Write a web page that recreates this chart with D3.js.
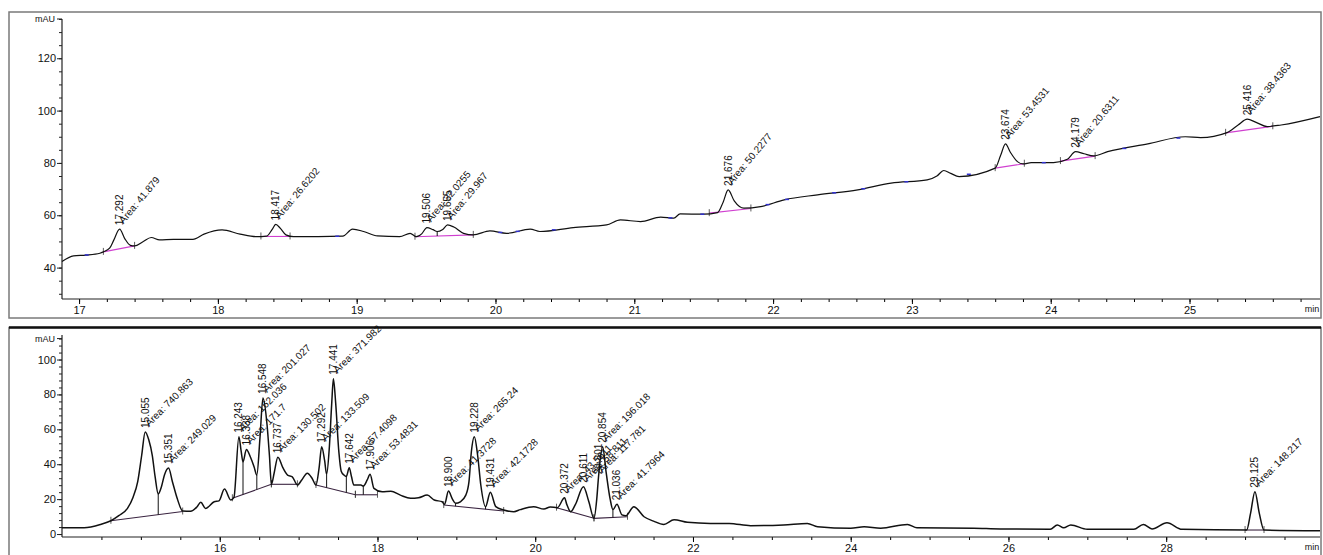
<!DOCTYPE html>
<html>
<head>
<meta charset="utf-8">
<script src="https://cdn.jsdelivr.net/npm/d3@7"></script>
<style>
  body { margin: 0; background: #fff; }
  svg text { font-family: Arial, "Liberation Sans", sans-serif; fill: #111; }
</style>
</head>
<body>
<div id="chart"></div>
<script>
// ---- top chromatogram (min, mAU) ----
const topTrace = [
  [16.877,42.3],[16.96,44.5],[17.05,44.8],[17.15,45.5],[17.175,46.0],[17.22,47.4],[17.25,50.5],[17.292,54.7],
  [17.33,51.0],[17.37,48.5],[17.40,48.3],[17.46,49.9],[17.52,51.5],[17.58,50.6],[17.68,50.8],[17.82,50.8],
  [17.90,52.8],[18.03,54.4],[18.16,52.8],[18.28,51.8],[18.35,52.0],[18.39,54.5],[18.417,56.5],[18.45,55.0],
  [18.49,52.5],[18.545,51.8],[18.90,52.0],[18.97,54.7],[19.05,53.8],[19.15,52.1],[19.31,51.8],[19.385,53.1],
  [19.43,51.8],[19.47,53.0],[19.506,55.3],[19.55,54.5],[19.58,53.8],[19.62,54.6],[19.655,56.3],[19.70,55.5],
  [19.77,53.1],[19.84,52.5],[19.96,54.0],[20.08,53.1],[20.25,54.7],[20.32,53.8],[20.56,55.3],[20.80,56.3],
  [20.90,58.2],[21.045,57.6],[21.19,59.3],[21.285,58.9],[21.33,60.5],[21.50,60.4],[21.60,61.0],[21.64,65.0],
  [21.676,69.7],[21.72,65.5],[21.79,62.7],[21.91,63.3],[22.08,65.9],[22.32,67.8],[22.61,69.7],[22.85,72.3],
  [23.11,73.5],[23.18,75.0],[23.23,77.1],[23.28,76.0],[23.34,74.8],[23.60,78.0],[23.64,83.0],[23.674,87.3],
  [23.71,84.0],[23.76,80.5],[23.80,79.6],[23.86,80.1],[24.02,80.1],[24.12,81.4],[24.179,84.3],[24.24,83.5],
  [24.31,82.7],[24.41,84.3],[24.70,87.3],[24.97,90.0],[25.08,89.7],[25.27,91.6],[25.35,94.5],[25.416,96.7],
  [25.48,95.5],[25.56,93.9],[25.66,94.5],[25.94,97.7]
];
const topPeakRT   = ["17.292", "18.417", "19.506", "19.655", "21.676", "23.674", "24.179", "25.416"];
const topPeakArea = ["Area: 41.879", "Area: 26.6202", "Area: 22.0255", "Area: 29.967", "Area: 50.2277",
                     "Area: 53.4531", "Area: 20.6311", "Area: 38.4363"];
const topBaselines = [
  [[17.175,46.0],[17.40,48.3]], [[18.31,51.9],[18.52,51.9]], [[19.42,51.8],[19.84,52.5]],
  [[21.54,60.8],[21.84,62.6]], [[23.60,78.0],[23.81,79.7]], [[24.07,80.7],[24.32,82.6]],
  [[25.26,91.5],[25.60,94.0]]
];
const topDrops = [19.58];
const topBlueMarks = [17.055, 18.86, 20.035, 20.16, 20.42, 21.26, 21.49, 21.96, 22.10, 22.44, 22.65,
                      22.96, 23.41, 23.95, 24.53, 24.92];
const topXTicks = [17, 18, 19, 20, 21, 22, 23, 24, 25];
const topYTicks = [40, 60, 80, 100, 120];

// ---- bottom chromatogram ----
const bottomTrace = [
  [14.0,3.6],[14.28,3.6],[14.49,5.5],[14.62,7.6],[14.72,10.5],[14.83,14.7],[14.90,21],[14.96,30],[15.01,45],
  [15.055,58.5],[15.10,54],[15.145,45],[15.18,33],[15.22,23],[15.26,27],[15.30,34],[15.351,37.8],[15.40,30],
  [15.46,20.5],[15.53,13.2],[15.63,13.0],[15.71,15.5],[15.76,18.2],[15.82,14.7],[15.93,18.5],[15.99,19],
  [16.06,25.8],[16.14,19.5],[16.18,21],[16.243,55.8],[16.27,48],[16.295,41.4],[16.338,48.5],[16.39,44],
  [16.435,38.6],[16.47,33.8],[16.51,55],[16.548,78],[16.60,62.5],[16.63,45],[16.655,28.5],[16.69,35],
  [16.737,44],[16.80,38],[16.86,33.8],[16.92,32.8],[16.985,28.1],[17.04,31],[17.11,34.8],[17.17,32],
  [17.22,28.1],[17.26,38],[17.292,50],[17.33,42],[17.355,34.2],[17.39,50],[17.42,75],[17.441,89],[17.47,75],
  [17.51,47.2],[17.54,36],[17.575,33.8],[17.605,33],[17.642,38],[17.67,33],[17.70,28.1],[17.79,28.1],
  [17.82,27.5],[17.87,31],[17.906,34.2],[17.955,26.2],[18.06,24.2],[18.17,24.5],[18.29,22.3],[18.42,20.5],
  [18.52,20.8],[18.63,22.3],[18.72,19.5],[18.82,18.5],[18.85,17],[18.900,24.6],[18.95,20],[18.99,17.6],
  [19.05,18.5],[19.12,22.3],[19.16,30],[19.19,47],[19.228,55.8],[19.27,45],[19.31,28.1],[19.37,15.7],
  [19.431,23.9],[19.50,15.7],[19.60,13.8],[19.73,12.8],[19.81,14],[19.98,15.7],[20.11,14.3],[20.19,15.5],
  [20.28,15.1],[20.372,20.8],[20.40,17],[20.45,12.8],[20.51,17],[20.611,27.1],[20.68,18.5],[20.745,9.0],
  [20.78,20],[20.801,32],[20.854,50],[20.90,35],[20.95,20],[20.985,14],[21.036,17],[21.10,11],[21.15,10.5],
  [21.25,15.7],[21.38,9.9],[21.50,7.4],[21.63,5.5],[21.76,8.2],[21.93,6.7],[22.22,6.1],[22.46,6.1],
  [22.73,4.8],[23.15,5.2],[23.45,6.1],[23.58,4.2],[24.00,3.3],[24.17,4.2],[24.38,3.3],[24.72,5.5],
  [24.84,3.6],[25.56,3.3],[25.90,2.9],[26.53,2.7],[26.62,5.2],[26.70,3.6],[26.79,5.2],[27.00,2.7],
  [27.59,2.7],[27.71,5.5],[27.82,2.9],[28.01,6.5],[28.20,2.7],[29.02,2.3],[29.07,12],[29.125,24.3],
  [29.18,12],[29.24,2.3],[29.95,1.9]
];
const bottomPeakRT = ["15.055", "15.351", "16.243", "16.338", "16.548", "16.737", "17.292", "17.441",
                      "17.642", "17.906", "18.900", "19.228", "19.431", "20.372", "20.611", "20.801",
                      "20.854", "21.036", "29.125"];
const bottomPeakArea = ["Area: 740.863", "Area: 249.029", "Area: 162.036", "Area: 171.7", "Area: 201.027",
                        "Area: 130.502", "Area: 133.509", "Area: 371.982", "Area: 57.4098", "Area: 53.4831",
                        "Area: 41.3728", "Area: 265.24", "Area: 42.1728", "Area: 43.5611", "Area: 58.811",
                        "Area: 117.781", "Area: 196.018", "Area: 41.7964", "Area: 148.217"];
const bottomBaselines = [
  [[14.62,7.6],[15.53,12.9]], [[16.16,20.5],[16.655,28.5]], [[16.655,28.5],[16.985,28.5]],
  [[17.22,28.1],[17.72,22.5]], [[17.72,22.5],[18.0,22.5]], [[18.84,16.6],[19.60,13.2]],
  [[20.27,15.1],[20.745,9.0]], [[20.745,9.0],[21.17,9.9]], [[29.0,2.3],[29.24,2.3]]
];
const bottomDrops = [15.22, 16.295, 16.47, 16.655, 17.355, 17.605, 17.82, 18.99, 19.37, 20.45, 20.745, 20.985];
const bottomXTicks = [16, 18, 20, 22, 24, 26, 28];
const bottomYTicks = [0, 20, 40, 60, 80, 100];

const W = 1323, H = 555;
const svg = d3.select('#chart').append('svg').attr('width', W).attr('height', H);

function interp(trace, t) {
  const i = d3.bisector(d => d[0]).left(trace, t);
  if (i <= 0) return trace[0][1];
  if (i >= trace.length) return trace[trace.length - 1][1];
  const a = trace[i - 1], b = trace[i];
  return a[1] + (b[1] - a[1]) * (t - a[0]) / (b[0] - a[0]);
}

function baseAt(baselines, t) {
  const seg = baselines.find(s => t >= s[0][0] - 1e-6 && t <= s[1][0] + 1e-6);
  if (!seg) return null;
  const [a, b] = seg;
  return a[1] + (b[1] - a[1]) * (t - a[0]) / (b[0] - a[0]);
}

function drawPanel(cfg) {
  const x = d3.scaleLinear().domain(cfg.xDomain).range([62, 1320]);
  const y = d3.scaleLinear().domain(cfg.yDomain).range([cfg.axisY, cfg.yTopPx]);
  const g = svg.append('g');

  // frame
  g.append('rect')
    .attr('x', 9).attr('y', cfg.frameTop)
    .attr('width', 1312).attr('height', cfg.frameBottom - cfg.frameTop)
    .attr('fill', 'none').attr('stroke', '#7a7a7a').attr('stroke-width', 1.5);
  if (cfg.thickTop) {
    g.append('line').attr('x1', 9).attr('x2', 1321)
      .attr('y1', cfg.frameTop).attr('y2', cfg.frameTop)
      .attr('stroke', '#111').attr('stroke-width', 2.5);
  }

  // y axis
  const yMinor = g.append('g').attr('transform', 'translate(62,0)')
    .call(d3.axisLeft(y).tickValues(cfg.yMinor).tickSize(3).tickFormat(''));
  yMinor.select('.domain').remove();
  const yMajor = g.append('g').attr('transform', 'translate(62,0)')
    .call(d3.axisLeft(y).tickValues(cfg.yTicks).tickSize(5).tickPadding(1).tickSizeOuter(0));
  yMajor.select('.domain').remove();
  yMajor.selectAll('text').style('font-size', '11px');
  g.selectAll('.tick line').attr('stroke', '#222');
  g.append('line').attr('x1', 62).attr('x2', 62)
    .attr('y1', y(cfg.yDomain[1])).attr('y2', cfg.axisY)
    .attr('stroke', '#222').attr('stroke-width', 1.2);
  g.append('line').attr('x1', 57).attr('x2', 62)
    .attr('y1', y(cfg.mauAt)).attr('y2', y(cfg.mauAt)).attr('stroke', '#222');
  g.append('text').attr('x', 55).attr('y', y(cfg.mauAt)).attr('dy', '0.35em')
    .attr('text-anchor', 'end').style('font-size', '9px').text('mAU');

  // x axis
  g.append('g').attr('transform', `translate(0,${cfg.axisY})`)
    .call(d3.axisBottom(x).tickValues(cfg.xMinor).tickSize(3).tickFormat('').tickSizeOuter(0))
    .call(s => s.select('.domain').remove());
  const xMajor = g.append('g').attr('transform', `translate(0,${cfg.axisY})`)
    .call(d3.axisBottom(x).tickValues(cfg.xTicks).tickSize(5).tickPadding(2).tickSizeOuter(0));
  xMajor.select('.domain').remove();
  xMajor.selectAll('text').style('font-size', '11px');
  g.append('line').attr('x1', 62).attr('x2', 1320)
    .attr('y1', cfg.axisY).attr('y2', cfg.axisY)
    .attr('stroke', '#222').attr('stroke-width', 1.2);
  g.append('text').attr('x', 1312).attr('y', cfg.axisY + 13)
    .attr('text-anchor', 'middle').style('font-size', '9px').text('min');

  // baselines + integration marks
  g.selectAll('.bl').data(cfg.baselines).join('line')
    .attr('x1', d => x(d[0][0])).attr('y1', d => y(d[0][1]))
    .attr('x2', d => x(d[1][0])).attr('y2', d => y(d[1][1]))
    .attr('stroke', cfg.baseColor).attr('stroke-width', 1.1);
  const ends = cfg.baselines.flatMap(d => [d[0], d[1]]);
  g.selectAll('.im').data(ends).join('line')
    .attr('x1', d => x(d[0])).attr('x2', d => x(d[0]))
    .attr('y1', d => y(d[1]) - 4).attr('y2', d => y(d[1]) + 3)
    .attr('stroke', '#333').attr('stroke-width', 0.8);

  // drop lines
  g.selectAll('.drop').data(cfg.drops).join('line')
    .attr('x1', d => x(d)).attr('x2', d => x(d))
    .attr('y1', d => y(interp(cfg.trace, d)))
    .attr('y2', d => y(baseAt(cfg.baselines, d) ?? interp(cfg.trace, d)))
    .attr('stroke', '#111').attr('stroke-width', 1);

  // trace
  const line = d3.line().x(d => x(d[0])).y(d => y(d[1])).curve(d3.curveMonotoneX);
  g.append('path').datum(cfg.trace)
    .attr('d', line).attr('fill', 'none')
    .attr('stroke', '#111').attr('stroke-width', cfg.lineWidth).attr('stroke-linejoin', 'round');

  // blue markers along the trace
  g.selectAll('.bm').data(cfg.blueMarks).join('line')
    .attr('x1', d => x(d) - 2).attr('x2', d => x(d) + 2)
    .attr('y1', d => y(interp(cfg.trace, d))).attr('y2', d => y(interp(cfg.trace, d)))
    .attr('stroke', '#3030d0').attr('stroke-width', 1.5);

  // peak labels
  const peaks = cfg.peakRT.map((rt, i) => ({ rt, area: cfg.peakArea[i], t: +rt, v: interp(cfg.trace, +rt) }));
  g.selectAll('.rt').data(peaks).join('text')
    .attr('transform', d => `translate(${x(d.t) + 3.5},${y(d.v) - 4}) rotate(-90)`)
    .style('font-size', '10px').text(d => d.rt);
  g.selectAll('.area').data(peaks).join('text')
    .attr('transform', d => `translate(${x(d.t) + 4},${y(d.v) - 5}) rotate(${cfg.areaAngle})`)
    .style('font-size', '10px').text(d => d.area);
}

drawPanel({
  xDomain: [16.877, 25.94], yDomain: [28, 135],
  axisY: 299, yTopPx: 19, frameTop: 12, frameBottom: 318, thickTop: false,
  yTicks: topYTicks, yMinor: d3.range(30, 136, 5), mauAt: 135,
  xTicks: topXTicks, xMinor: d3.range(17, 25.95, 0.2),
  trace: topTrace, baselines: topBaselines, baseColor: '#d040d0', drops: topDrops,
  blueMarks: topBlueMarks, peakRT: topPeakRT, peakArea: topPeakArea,
  areaAngle: -50, lineWidth: 1.2
});

drawPanel({
  xDomain: [14.0, 29.95], yDomain: [-1.7, 114],
  axisY: 537, yTopPx: 537 - 115.7 * 1.745, frameTop: 327.5, frameBottom: 570, thickTop: true,
  yTicks: bottomYTicks, yMinor: d3.range(0, 113, 4), mauAt: 112,
  xTicks: bottomXTicks, xMinor: d3.range(14.5, 29.95, 0.5),
  trace: bottomTrace, baselines: bottomBaselines, baseColor: '#3a2440', drops: bottomDrops,
  blueMarks: [], peakRT: bottomPeakRT, peakArea: bottomPeakArea,
  areaAngle: -45, lineWidth: 1.5
});
</script>
</body>
</html>
